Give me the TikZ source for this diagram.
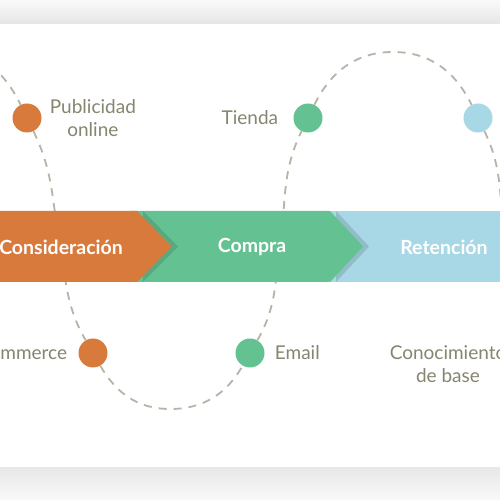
\documentclass[tikz,border=0pt]{standalone}
\usepackage{fontspec}
\setmainfont{Lato}
\usepackage{xcolor}
\usepackage{tikz}
\usetikzlibrary{positioning}

\definecolor{orangeC}{HTML}{D97A3D}
\definecolor{greenC}{HTML}{63C192}
\definecolor{blueC}{HTML}{A8D7E5}
\definecolor{textC}{HTML}{86856F}
\definecolor{dashC}{HTML}{B8B3A7}

\tikzset{
  dot/.style={circle, minimum size=29pt, inner sep=0pt},
  lbl/.style={text=textC, font=\fontsize{19}{23}\selectfont, align=center, inner sep=0pt},
  stage/.style={text=white, font=\fontsize{19.5}{22}\selectfont\bfseries, inner sep=0pt},
  wave/.style={dashC, line width=1.8pt, dash pattern=on 8pt off 7pt}
}

\begin{document}
\begin{tikzpicture}[x=1pt,y=1pt]
        \useasboundingbox (0,0) rectangle (500,500);
        \clip (0,0) rectangle (500,500);

        % card and shadows
        \fill[white] (0,0) rectangle (500,500);
        \shade[top color=gray!4, bottom color=gray!20] (0,476) rectangle (500,500);
        \shade[top color=gray!18, bottom color=gray!5] (0,0) rectangle (500,32);

        % points on the curve
        \node[dot, fill=orangeC] (c1) at (27,382) {};
        \node[dot, fill=orangeC] (c2) at (93,147) {};
        \node[dot, fill=greenC] (c3) at (250,147) {};
        \node[dot, fill=greenC] (c4) at (308,382) {};
        \node[dot, fill=blueC] (c5) at (478,382) {};

        \coordinate (p0) at (-52,448);
        \coordinate (x1) at (60,253);
        \coordinate (t1) at (170,91);
        \coordinate (x2) at (280,253);
        \coordinate (p1) at (393,448);
        \coordinate (x3) at (506,253);

        \draw[wave] (p0) to[out=0,in=116] (c1) to[out=-64,in=100] (x1)
            to[out=-80,in=120] (c2) to[out=-60,in=180] (t1)
            to[out=0,in=240] (c3) to[out=60,in=262] (x2)
            to[out=82,in=244] (c4) to[out=64,in=180] (p1)
            to[out=0,in=116] (c5) to[out=-64,in=100] (x3);

        % banner
        \fill[blueC] (320,218) rectangle (500,289);
        \fill[black, opacity=0.12] (336,289) -- (369,253.5) -- (336,218) -- cycle;
        \fill[greenC] (130,218) -- (130,289) -- (330,289) -- (363,253.5) -- (330,218) -- cycle;
        \fill[black, opacity=0.12] (143,289) -- (178,253.5) -- (143,218) -- cycle;
        \fill[orangeC] (0,218) -- (0,289) -- (137,289) -- (172,253.5) -- (137,218) -- cycle;

        \node[stage] (s1) at (61,253) {Consideración};
        \node[stage] (s2) at (252,253) {Compra};
        \node[stage] (s3) at (444,253) {Retención};

        % labels
        \node[lbl, right=8pt of c1] (l1) {Publicidad\\online};
        \node[lbl, left=15pt of c4] (l4) {Tienda};
        \node[lbl, left=11pt of c2] (l2) {Ecommerce};
        \node[lbl, right=10pt of c3] (l3) {Email};
        \node[lbl] (l5) at (448,136) {Conocimiento\\de base};
    \end{tikzpicture}
\end{document}
